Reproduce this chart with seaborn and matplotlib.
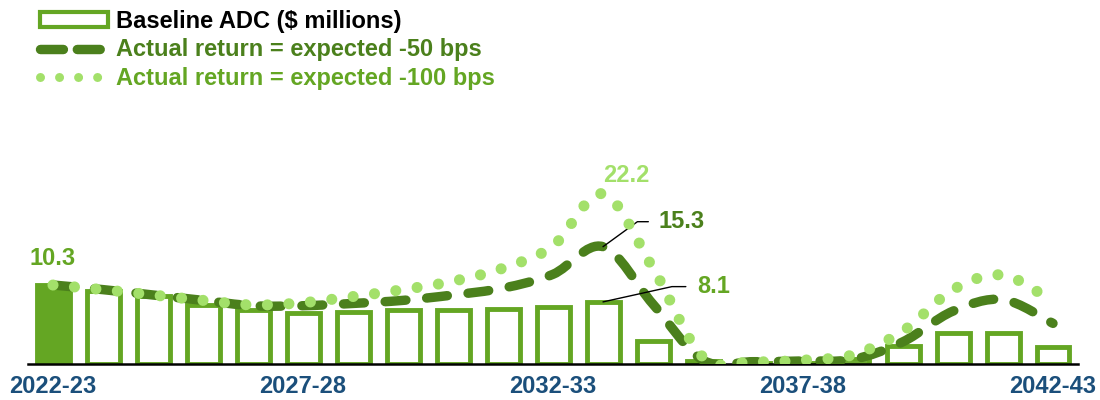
import numpy as np
import pandas as pd
import matplotlib
matplotlib.use("Agg")
import matplotlib.pyplot as plt
from matplotlib.path import Path
from matplotlib.patches import PathPatch, Patch
from matplotlib.lines import Line2D
import seaborn as sns

# ---- data ($ millions) ----
years = ["2022-23", "2023-24", "2024-25", "2025-26", "2026-27", "2027-28",
         "2028-29", "2029-30", "2030-31", "2031-32", "2032-33", "2033-34",
         "2034-35", "2035-36", "2036-37", "2037-38", "2038-39", "2039-40",
         "2040-41", "2041-42", "2042-43"]
baseline_adc = [10.3, 9.5, 8.9, 7.7, 7.0, 6.7, 6.8, 7.0, 7.1, 7.2, 7.5, 8.1,
                3.0, 0.4, 0.1, 0.1, 0.6, 2.3, 4.1, 4.1, 2.2]
minus_50bps = [10.3, 9.7, 9.0, 8.3, 7.6, 7.6, 7.9, 8.3, 9.0, 9.9, 11.7, 15.3,
               7.8, 0.5, 0.3, 0.4, 0.6, 2.9, 6.9, 8.4, 5.3]
minus_100bps = [10.3, 9.7, 9.0, 8.3, 7.7, 8.0, 8.8, 9.7, 10.8, 12.5, 15.4, 22.2,
                12.5, 0.9, 0.3, 0.5, 1.2, 4.3, 9.7, 11.6, 8.1]
shown_years = ["2022-23", "2027-28", "2032-33", "2037-38", "2042-43"]

legend_labels = ["Baseline ADC ($ millions)",
                 "Actual return = expected -50 bps",
                 "Actual return = expected -100 bps"]

GREEN = "#64A623"
DARK = "#4B801C"
LIGHT = "#A3E06A"
NAVY = "#1B4F7B"
FS = 17

sns.set_theme(style="white")
plt.rcParams["font.family"] = ["Liberation Sans", "DejaVu Sans"]
plt.rcParams["font.weight"] = "bold"
plt.rcParams["lines.scale_dashes"] = False

fig = plt.figure(figsize=(11, 4), dpi=100)
ax = fig.add_axes([28 / 1100, 36 / 400, 1050 / 1100, 230 / 400])

df = pd.DataFrame({"year": years, "adc": baseline_adc})
sns.barplot(data=df, x="year", y="adc", ax=ax, width=0.66, color="white",
            saturation=1, edgecolor=GREEN, linewidth=3.5, zorder=1)
# current year drawn solid
ax.patches[0].set_facecolor(GREEN)


def smooth_path(xs, ys):
    """Cubic Bezier curve through every point (Catmull-Rom tangents)."""
    pts = np.column_stack([xs, ys]).astype(float)
    n = len(pts)
    verts = [pts[0]]
    codes = [Path.MOVETO]
    for i in range(n - 1):
        p0 = pts[i - 1] if i > 0 else pts[i]
        p1, p2 = pts[i], pts[i + 1]
        p3 = pts[i + 2] if i + 2 < n else pts[i + 1]
        verts += [p1 + (p2 - p0) / 6, p2 - (p3 - p1) / 6, p2]
        codes += [Path.CURVE4] * 3
    return Path(verts, codes)


xpos = np.arange(len(years))
ax.add_patch(PathPatch(smooth_path(xpos, minus_50bps), fill=False,
                       edgecolor=DARK, lw=6.8, linestyle=(0, (15, 15)),
                       capstyle="round", joinstyle="round", zorder=3))
ax.add_patch(PathPatch(smooth_path(xpos, minus_100bps), fill=False,
                       edgecolor=LIGHT, lw=8, linestyle=(0, (0.01, 15.5)),
                       capstyle="round", joinstyle="round", zorder=4))

ax.set_xlim(-0.5, len(years) - 0.5)
ax.set_ylim(0, 30)
ax.set_xlabel("")
ax.set_ylabel("")
ax.set_yticks([])
ax.set_xticks([years.index(y) for y in shown_years])
ax.set_xticklabels(shown_years)
ax.tick_params(axis="x", length=0, pad=8, labelsize=FS, labelcolor=NAVY)
for s in ("left", "top", "right"):
    ax.spines[s].set_visible(False)
ax.spines["bottom"].set_color("black")
ax.spines["bottom"].set_linewidth(1.8)
ax.spines["bottom"].set_zorder(2.5)

# value labels
ax.annotate(f"{baseline_adc[0]:.1f}", xy=(0, baseline_adc[0]), xytext=(0, 19),
            textcoords="offset points", ha="center", va="center",
            color=GREEN, fontsize=FS, fontweight="bold")
peak = 11
ax.annotate(f"{minus_100bps[peak]:.1f}", xy=(peak, minus_100bps[peak]),
            xytext=(17, 13), textcoords="offset points", ha="center",
            va="center", color=LIGHT, fontsize=FS, fontweight="bold")
ax.annotate(f"{minus_50bps[peak]:.1f}", xy=(peak, minus_50bps[peak]),
            xytext=(40, 18), textcoords="offset points", ha="left",
            va="center", color=DARK, fontsize=FS, fontweight="bold",
            arrowprops=dict(arrowstyle="-", color="black", lw=1,
                            shrinkA=5, shrinkB=0, relpos=(0, 0.5),
                            connectionstyle="angle,angleA=0,angleB=36,rad=0"))
ax.annotate(f"{baseline_adc[peak]:.1f}", xy=(peak, baseline_adc[peak]),
            xytext=(68, 11), textcoords="offset points", ha="left",
            va="center", color=GREEN, fontsize=FS, fontweight="bold",
            arrowprops=dict(arrowstyle="-", color="black", lw=1,
                            shrinkA=6, shrinkB=0, relpos=(0, 0.5),
                            connectionstyle="angle,angleA=0,angleB=12.5,rad=0"))

handles = [
    Patch(facecolor="white", edgecolor=GREEN, lw=3),
    Line2D([], [], color=DARK, lw=6.8, ls=(0, (16.5, 10)),
           dash_capstyle="round"),
    Line2D([], [], color=LIGHT, lw=6.5, ls=(0, (0.01, 13.7)),
           dash_capstyle="round"),
]
leg = fig.legend(handles, legend_labels, loc="upper left",
                 bbox_to_anchor=(40 / 1100, 1 - 10 / 400), frameon=False,
                 fontsize=FS, handlelength=2.9, handleheight=0.6,
                 handletextpad=0.33, labelspacing=0.23, borderpad=0,
                 borderaxespad=0)
for txt, col in zip(leg.get_texts(), ["black", DARK, GREEN]):
    txt.set_color(col)
    txt.set_fontweight("bold")

fig.savefig("out.png", dpi=100, facecolor="white")
